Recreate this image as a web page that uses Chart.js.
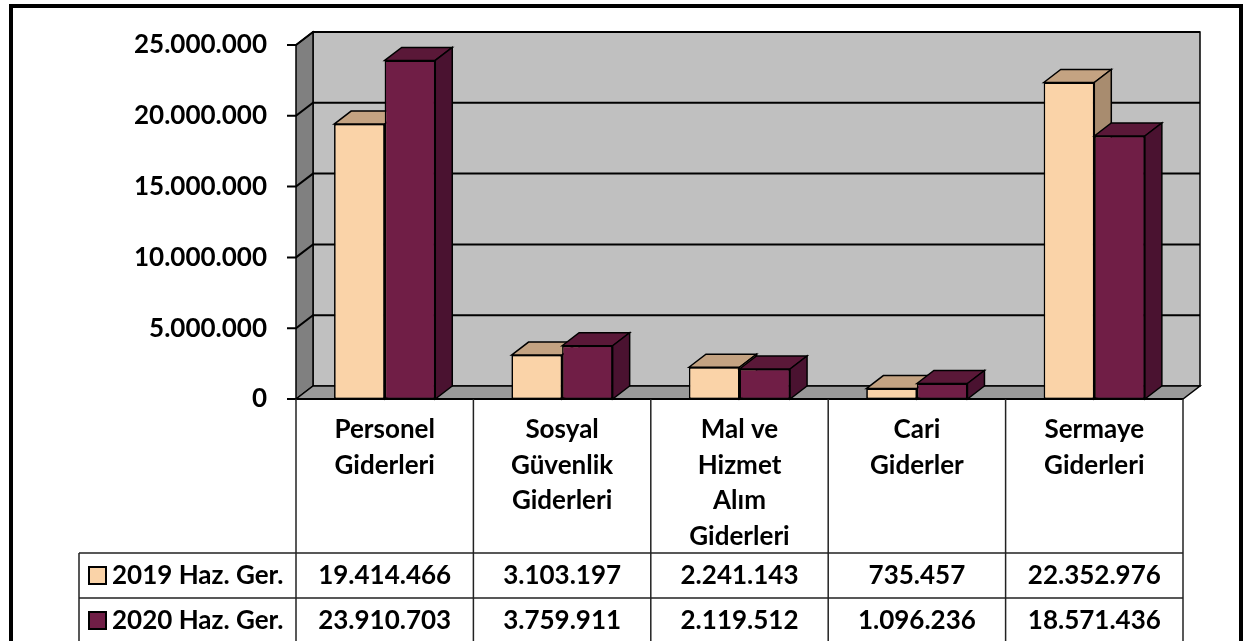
<!DOCTYPE html>
<html>
<head>
<meta charset="utf-8">
<script src="https://cdn.jsdelivr.net/npm/chart.js@4.4.1/dist/chart.umd.min.js"></script>
<style>
  html, body { margin: 0; padding: 0; background: #fff; }
</style>
</head>
<body>
<canvas id="chart" width="1251" height="641"></canvas>
<script>
var categories = [
    ['Personel', 'Giderleri'],
    ['Sosyal', 'Güvenlik', 'Giderleri'],
    ['Mal ve', 'Hizmet', 'Alım', 'Giderleri'],
    ['Cari', 'Giderler'],
    ['Sermaye', 'Giderleri']
];
var seriesNames = ['2019 Haz. Ger.', '2020 Haz. Ger.'];
var values2019 = [19414466, 3103197, 2241143, 735457, 22352976];
var values2020 = [23910703, 3759911, 2119512, 1096236, 18571436];
var yTicks = [0, 5000000, 10000000, 15000000, 20000000, 25000000];

var FONT = 'bold 26px Lato';
var DX = 17, DY = 13;   // depth of the 3d walls and bars

// face colours: front, top, side
var faces = [
    ['#fad3a8', '#c4a382', '#a88c6f'],
    ['#701e46', '#5a1838', '#4a1230']
];

function fmt(n) {
    return String(n).replace(/\B(?=(\d{3})+(?!\d))/g, '.');
}

function poly(ctx, pts, fill) {
    ctx.beginPath();
    ctx.moveTo(pts[0][0], pts[0][1]);
    for (var i = 1; i < pts.length; i++) ctx.lineTo(pts[i][0], pts[i][1]);
    ctx.closePath();
    if (fill) { ctx.fillStyle = fill; ctx.fill(); }
    ctx.stroke();
}

var box3d = {
    id: 'box3d',
    beforeDatasetsDraw: function (chart) {
        var ctx = chart.ctx, a = chart.chartArea, ys = chart.scales.y;
        ctx.save();
        ctx.strokeStyle = '#000';
        ctx.lineWidth = 1.5;
        // back wall
        poly(ctx, [[a.left + DX, a.top - DY], [a.right + DX, a.top - DY], [a.right + DX, a.bottom - DY], [a.left + DX, a.bottom - DY]], '#c0c0c0');
        // left wall
        poly(ctx, [[a.left, a.top], [a.left + DX, a.top - DY], [a.left + DX, a.bottom - DY], [a.left, a.bottom]], '#808080');
        // floor
        poly(ctx, [[a.left, a.bottom], [a.left + DX, a.bottom - DY], [a.right + DX, a.bottom - DY], [a.right, a.bottom]], '#999999');
        // gridlines + tick marks
        ctx.lineWidth = 2;
        yTicks.forEach(function (v) {
            var y = ys.getPixelForValue(v);
            ctx.beginPath();
            ctx.moveTo(a.left - 9, y);
            ctx.lineTo(a.left, y);
            if (v > 0) {
                ctx.lineTo(a.left + DX, y - DY);
                ctx.lineTo(a.right + DX, y - DY);
            }
            ctx.stroke();
        });
        ctx.beginPath();
        ctx.moveTo(a.left - 9, a.bottom);
        ctx.lineTo(a.right, a.bottom);
        ctx.stroke();
        ctx.restore();
    },
    afterDatasetsDraw: function (chart) {
        // redraw bars category by category so the 3d faces overlap correctly
        var ctx = chart.ctx;
        var metas = [chart.getDatasetMeta(0), chart.getDatasetMeta(1)];
        ctx.save();
        for (var i = 0; i < categories.length; i++) {
            metas.forEach(function (meta, d) {
                var bar = meta.data[i];
                var c = faces[d];
                bar.draw(ctx);
                var p = bar.getProps(['x', 'y', 'base', 'width'], true);
                var l = p.x - p.width / 2, r = p.x + p.width / 2;
                ctx.strokeStyle = '#000';
                ctx.lineWidth = 1.5;
                poly(ctx, [[l, p.y], [l + DX, p.y - DY], [r + DX, p.y - DY], [r, p.y]], c[1]);
                poly(ctx, [[r, p.y], [r + DX, p.y - DY], [r + DX, p.base - DY], [r, p.base]], c[2]);
            });
        }
        ctx.restore();
    },
    afterDraw: function (chart) {
        var ctx = chart.ctx, a = chart.chartArea, xs = chart.scales.x;
        var catW = (a.right - a.left) / categories.length;
        var row1 = 553, row2 = 598, bottomY = 646, tableLeft = 79;
        ctx.save();
        ctx.strokeStyle = '#222';
        ctx.lineWidth = 1.5;
        // vertical lines
        for (var i = 0; i <= categories.length; i++) {
            var x = a.left + i * catW;
            ctx.beginPath();
            ctx.moveTo(x, a.bottom);
            ctx.lineTo(x, bottomY);
            ctx.stroke();
        }
        ctx.beginPath();
        ctx.moveTo(tableLeft, row1);
        ctx.lineTo(tableLeft, bottomY);
        ctx.moveTo(tableLeft, row1);
        ctx.lineTo(a.right, row1);
        ctx.moveTo(tableLeft, row2);
        ctx.lineTo(a.right, row2);
        ctx.stroke();

        ctx.fillStyle = '#000';
        ctx.font = FONT;
        ctx.textAlign = 'center';
        ctx.textBaseline = 'middle';
        categories.forEach(function (lines, i) {
            var cx = xs.getPixelForValue(i);
            lines.forEach(function (t, k) {
                ctx.fillText(t, cx, 430 + k * 35.5);
            });
        });
        var rows = [values2019, values2020];
        var rowY = [575.5, 620.5];
        rows.forEach(function (vals, r) {
            vals.forEach(function (v, i) {
                ctx.fillText(fmt(v), xs.getPixelForValue(i), rowY[r]);
            });
            // legend key
            ctx.fillStyle = faces[r][0];
            ctx.fillRect(89, rowY[r] - 8.5, 17, 17);
            ctx.strokeStyle = '#000';
            ctx.lineWidth = 2;
            ctx.strokeRect(89, rowY[r] - 8.5, 17, 17);
            ctx.fillStyle = '#000';
            ctx.textAlign = 'left';
            ctx.fillText(seriesNames[r], 112, rowY[r]);
            ctx.textAlign = 'center';
        });

        // outer frame
        ctx.strokeStyle = '#000';
        ctx.lineWidth = 4;
        ctx.strokeRect(11, 6, 1230, 645);
        ctx.restore();
    }
};

new Chart(document.getElementById('chart'), {
    type: 'bar',
    data: {
        labels: categories,
        datasets: [{
            label: seriesNames[0],
            data: values2019,
            backgroundColor: faces[0][0],
            borderColor: '#000',
            borderWidth: 1.5,
            borderSkipped: false
        }, {
            label: seriesNames[1],
            data: values2020,
            backgroundColor: faces[1][0],
            borderColor: '#000',
            borderWidth: 1.5,
            borderSkipped: false
        }]
    },
    options: {
        responsive: false,
        animation: false,
        categoryPercentage: 0.57,
        barPercentage: 1,
        layout: {
            padding: { left: 0, right: 68, top: 45, bottom: 242 }
        },
        scales: {
            x: { display: false },
            y: {
                min: 0,
                max: 25000000,
                afterFit: function (s) { s.width = 296; },
                afterBuildTicks: function (s) {
                    s.ticks = yTicks.map(function (v) { return { value: v }; });
                },
                grid: { display: false, drawTicks: false },
                border: { display: false },
                ticks: {
                    padding: 29,
                    color: '#000',
                    font: { family: 'Lato', weight: 'bold', size: 26 },
                    callback: function (v) { return fmt(v); }
                }
            }
        },
        plugins: {
            legend: { display: false },
            tooltip: { enabled: false }
        }
    },
    plugins: [box3d]
});
</script>
</body>
</html>
